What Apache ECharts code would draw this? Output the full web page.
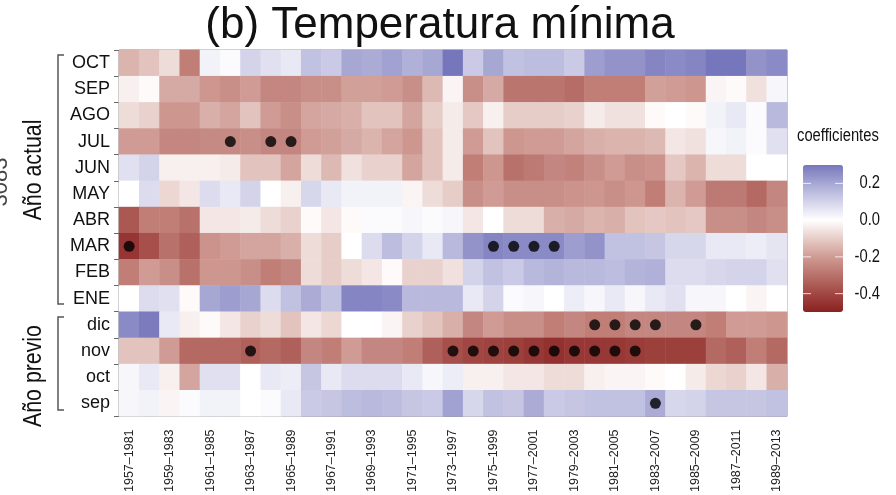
<!DOCTYPE html>
<html>
<head>
<meta charset="utf-8">
<script src="https://cdn.jsdelivr.net/npm/echarts@6/dist/echarts.min.js"></script>
<style>
html,body{margin:0;padding:0;background:#fff;}
#chart{width:896px;height:495px;}
</style>
</head>
<body>
<div id="chart"></div>
<script>
const xLabels = ['1957–1981','1958–1982','1959–1983','1960–1984','1961–1985','1962–1986','1963–1987','1964–1988','1965–1989','1966–1990','1967–1991','1968–1992','1969–1993','1970–1994','1971–1995','1972–1996','1973–1997','1974–1998','1975–1999','1976–2000','1977–2001','1978–2002','1979–2003','1980–2004','1981–2005','1982–2006','1983–2007','1984–2008','1985–2009','1986–2010','1987–2011','1988–2012','1989–2013'];
const rowLabels = ['OCT','SEP','AGO','JUL','JUN','MAY','ABR','MAR','FEB','ENE','dic','nov','oct','sep'];

const OCT = [-0.15,-0.12,-0.07,-0.27,0.03,0.01,0.10,0.07,0.05,0.14,0.12, 0.20,0.19,0.21,0.18,0.20,0.30,0.12,0.20,0.14,0.15,0.15,0.12, 0.22,0.24,0.24,0.27,0.26,0.27,0.30,0.30,0.24,0.26];
const SEP = [-0.03,-0.01,-0.17,-0.17,-0.21,-0.23,-0.20,-0.25,-0.25,-0.23,-0.23, -0.19,-0.19,-0.20,-0.23,-0.14,-0.02,-0.23,-0.17,-0.29,-0.29,-0.29,-0.31, -0.27,-0.27,-0.27,-0.19,-0.20,-0.21,-0.02,-0.01,-0.06,0.02];
const AGO = [-0.07,-0.09,-0.21,-0.21,-0.16,-0.18,-0.12,-0.20,-0.23,-0.18,-0.17, -0.16,-0.12,-0.12,-0.18,-0.10,-0.04,-0.11,-0.03,-0.10,-0.10,-0.10,-0.09, -0.04,-0.06,-0.06,-0.01,0.00,-0.01,0.03,0.05,0.01,0.16];
const JUL = [-0.20,-0.20,-0.25,-0.25,-0.24,-0.24,-0.23,-0.25,-0.25,-0.20,-0.19, -0.17,-0.15,-0.18,-0.21,-0.12,-0.04,-0.20,-0.12,-0.21,-0.20,-0.20,-0.18, -0.16,-0.15,-0.15,-0.14,-0.05,-0.06,0.02,0.03,0.01,0.07];
const JUN = [0.07,0.10,-0.03,-0.03,-0.03,-0.04,-0.12,-0.12,-0.18,-0.07,-0.14, -0.06,-0.09,-0.09,-0.18,-0.12,-0.04,-0.27,-0.21,-0.30,-0.28,-0.25,-0.26, -0.23,-0.20,-0.23,-0.22,-0.11,-0.15,-0.07,-0.07,0.00,0.00];
const MAY = [0.00,0.08,-0.08,-0.05,0.08,0.05,0.10,0.00,-0.03,0.09,0.05, 0.03,0.03,0.03,-0.02,-0.07,-0.10,-0.23,-0.20,-0.23,-0.23,-0.23,-0.22, -0.21,-0.23,-0.21,-0.27,-0.15,-0.20,-0.28,-0.28,-0.32,-0.25];
const ABR = [-0.36,-0.27,-0.27,-0.30,-0.05,-0.05,-0.04,-0.07,-0.09,-0.01,-0.05, -0.01,0.01,0.01,0.02,0.01,0.02,-0.05,0.00,-0.07,-0.07,-0.16,-0.17, -0.15,-0.16,-0.12,-0.11,-0.12,-0.11,-0.23,-0.23,-0.25,-0.23];
const MAR = [-0.45,-0.38,-0.30,-0.34,-0.22,-0.20,-0.18,-0.18,-0.16,-0.07,-0.10, 0.00,0.08,0.15,0.10,0.05,0.16,0.24,0.27,0.26,0.26,0.26,0.22, 0.24,0.14,0.14,0.13,0.09,0.09,0.05,0.05,0.04,0.06];
const FEB = [-0.27,-0.20,-0.23,-0.30,-0.21,-0.21,-0.23,-0.27,-0.25,-0.07,-0.10, -0.07,-0.05,-0.01,-0.09,-0.09,-0.06,0.10,0.14,0.12,0.16,0.17,0.16, 0.16,0.15,0.17,0.18,0.08,0.08,0.09,0.10,0.10,0.07];
const ENE = [0.00,0.08,0.07,-0.01,0.20,0.22,0.20,0.08,0.14,0.19,0.14, 0.27,0.27,0.26,0.16,0.16,0.16,0.05,0.10,0.01,0.02,0.00,0.04, 0.02,0.05,0.02,0.05,0.07,0.02,0.02,0.00,-0.02,0.00];
const dic = [0.26,0.29,0.05,-0.03,-0.01,-0.05,-0.09,-0.07,-0.12,-0.05,-0.08, 0.00,0.00,-0.02,-0.09,-0.12,-0.16,-0.25,-0.20,-0.23,-0.23,-0.27,-0.25, -0.27,-0.27,-0.25,-0.25,-0.25,-0.25,-0.27,-0.20,-0.20,-0.21];
const nov = [-0.12,-0.12,-0.20,-0.32,-0.32,-0.32,-0.34,-0.32,-0.34,-0.25,-0.27, -0.20,-0.25,-0.25,-0.27,-0.34,-0.38,-0.40,-0.41,-0.42,-0.44,-0.46,-0.44, -0.44,-0.44,-0.43,-0.42,-0.42,-0.42,-0.32,-0.34,-0.27,-0.32];
const oct = [0.02,0.05,-0.03,-0.18,0.07,0.07,0.00,0.05,0.04,0.13,0.05, 0.08,0.08,0.08,0.05,0.02,0.04,-0.03,-0.03,-0.05,-0.05,-0.07,-0.07, -0.03,-0.02,-0.02,-0.01,0.00,-0.04,-0.08,-0.09,-0.05,-0.16];
const sep = [0.02,0.03,-0.02,0.01,0.03,0.03,0.00,0.01,0.05,0.12,0.13, 0.15,0.16,0.15,0.13,0.12,0.21,0.09,0.14,0.13,0.19,0.12,0.13, 0.14,0.14,0.14,0.19,0.09,0.10,0.13,0.13,0.13,0.14];

// significant coefficients (column indices) per row
const sigJUL = [5,7,8];
const sigMAR = [0,18,19,20,21];
const sigDic = [23,24,25,26,28];
const sigNov = [6,16,17,18,19,20,21,22,23,24,25];
const sigSep = [26];

const legendTicks = [0.2, 0.0, -0.2, -0.4];
const legendTickText = ['0.2','0.0','-0.2','-0.4'];

const rowsData = [OCT,SEP,AGO,JUL,JUN,MAY,ABR,MAR,FEB,ENE,dic,nov,oct,sep];
const heatData = [];
rowsData.forEach((arr, r) => arr.forEach((v, c) => heatData.push([c, r, v])));
const sigData = [];
[['JUL',sigJUL],['MAR',sigMAR],['dic',sigDic],['nov',sigNov],['sep',sigSep]].forEach(([row, cols]) => {
  cols.forEach(c => sigData.push([c, rowLabels.indexOf(row)]));
});

const FONT = '"Liberation Sans",Arial,sans-serif';
const SQ = 0.82; // horizontal condensation for decorative texts

const vmMin = -0.5, vmMax = 0.3, vmTop = 165, vmH = 147, vmLeft = 803, vmW = 40;
const yOf = v => vmTop + (vmMax - v) / (vmMax - vmMin) * vmH;

const graphics = [
  {type:'polyline', shape:{points:[[64,55],[58,55],[58,304],[64,304]]}, style:{stroke:'#555', lineWidth:1.5, fill:null}},
  {type:'polyline', shape:{points:[[64,317],[58,317],[58,410],[64,410]]}, style:{stroke:'#555', lineWidth:1.5, fill:null}},
  {type:'text', x:34, y:170, rotation:Math.PI/2, scaleX:SQ, style:{text:'Año actual', font:'26px '+FONT, fill:'#111', align:'center', verticalAlign:'middle'}},
  {type:'text', x:34, y:376, rotation:Math.PI/2, scaleX:SQ, style:{text:'Año previo', font:'26px '+FONT, fill:'#111', align:'center', verticalAlign:'middle'}},
  {type:'text', x:1, y:182, rotation:Math.PI/2, style:{text:'3083', font:'22px '+FONT, fill:'#444', align:'center', verticalAlign:'middle'}},
  {type:'text', x:797, y:136, scaleX:SQ, style:{text:'coefficientes', font:'18px '+FONT, fill:'#111', align:'left', verticalAlign:'middle'}}
];
legendTicks.forEach((v, i) => {
  const y = yOf(v);
  graphics.push({type:'line', z:100, shape:{x1:vmLeft, y1:y, x2:vmLeft+8, y2:y}, style:{stroke:'rgba(255,255,255,0.8)', lineWidth:1}});
  graphics.push({type:'line', z:100, shape:{x1:vmLeft+vmW-8, y1:y, x2:vmLeft+vmW, y2:y}, style:{stroke:'rgba(255,255,255,0.8)', lineWidth:1}});
  graphics.push({type:'text', x:880, y:y, scaleX:SQ, style:{text:legendTickText[i], font:'18px '+FONT, fill:'#111', align:'right', verticalAlign:'middle'}});
});

const chart = echarts.init(document.getElementById('chart'), null, {renderer:'canvas'});
chart.setOption({
  animation:false,
  backgroundColor:'#fff',
  title:{text:'(b) Temperatura mínima', left:440, textAlign:'center', top:2, padding:0,
    textStyle:{fontSize:44, fontWeight:'normal', color:'#111', fontFamily:FONT, lineHeight:48}},
  grid:{left:119, top:50, width:668, height:368, show:true, borderColor:'#8a8a8a', borderWidth:1, backgroundColor:'transparent'},
  xAxis:{type:'category', data:xLabels, axisLine:{show:false}, axisTick:{show:false}, splitLine:{show:false},
    axisLabel:{rotate:90, interval:1, margin:13, fontSize:12.5, color:'#222', fontFamily:FONT}},
  yAxis:{type:'category', data:rowLabels, inverse:true, axisLine:{show:false}, splitLine:{show:false},
    axisTick:{show:true, length:5, interval:0, lineStyle:{color:'#666'}},
    axisLabel:{interval:0, margin:9, fontSize:18, color:'#111', fontFamily:FONT}},
  visualMap:{type:'continuous', min:vmMin, max:vmMax, seriesIndex:0, calculable:false, orient:'vertical',
    left:vmLeft, top:vmTop, itemWidth:vmW, itemHeight:vmH, padding:0, text:null, showLabel:false,
    inRange:{color:['#8a2222','#a14743','#b9716b','#cf9b94','#e7cdc8','#ffffff','#d3d3ea','#a7a7d4','#7676bc']}},
  series:[
    {type:'heatmap', data:heatData, itemStyle:{borderWidth:0}, emphasis:{disabled:true}, progressive:0},
    {type:'scatter', data:sigData, symbol:'circle', symbolSize:11, itemStyle:{color:'#000'}, z:5, emphasis:{disabled:true}}
  ],
  graphic:graphics
});
</script>
</body>
</html>
